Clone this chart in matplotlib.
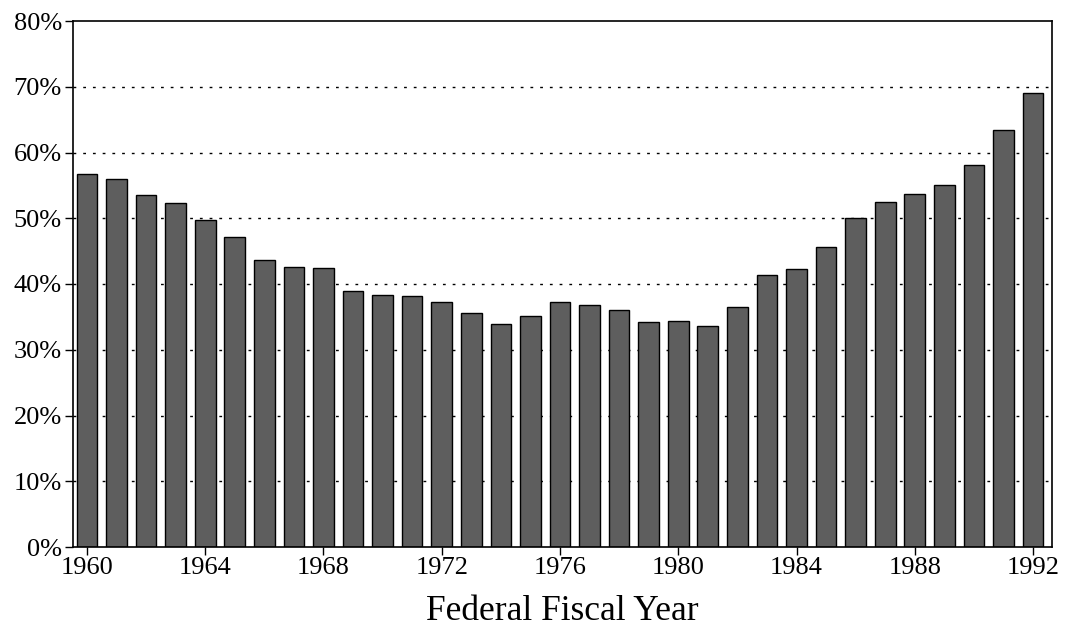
import numpy as np
import matplotlib
matplotlib.use('Agg')
import matplotlib.pyplot as plt
from matplotlib.ticker import FuncFormatter

years = list(range(1960, 1993))
share = [56.8, 56.0, 53.6, 52.3, 49.7, 47.1, 43.6, 42.6, 42.5, 38.9,
         38.3, 38.1, 37.3, 35.6, 33.9, 35.2, 37.3, 36.8, 36.1, 34.2,
         34.4, 33.6, 36.5, 41.4, 42.3, 45.6, 50.0, 52.4, 53.7, 55.0,
         58.1, 63.4, 69.0]
year_ticks = [1960, 1964, 1968, 1972, 1976, 1980, 1984, 1988, 1992]
pct_ticks = [0, 10, 20, 30, 40, 50, 60, 70, 80]

plt.rcParams['font.family'] = ['Liberation Serif', 'DejaVu Serif']

fig = plt.figure(figsize=(10.65, 6.36), dpi=100)
ax = fig.add_axes([73 / 1065, 1 - 547 / 636, (1052 - 73) / 1065, (547 - 21) / 636])

ax.bar(years, share, width=0.7, color='#5e5e5e', edgecolor='black', linewidth=1.0, zorder=2)

ax.set_xlim(1959.53, 1992.64)
ax.set_ylim(0, 80)
ax.set_yticks(pct_ticks)
ax.yaxis.set_major_formatter(FuncFormatter(lambda v, p: '%d%%' % v))
ax.set_xticks(year_ticks)
ax.tick_params(axis='both', labelsize=19, direction='out', length=6, width=1, colors='black')
ax.tick_params(axis='y', pad=2)
ax.tick_params(axis='x', pad=1)

for y in pct_ticks[1:-1]:
    ax.axhline(y, color='black', linestyle=(0, (2, 5)), linewidth=1, zorder=1)

for s in ax.spines.values():
    s.set_linewidth(1.2)
    s.set_color('black')

ax.set_xlabel('Federal Fiscal Year', fontsize=25.5, labelpad=12)

fig.savefig('out.png', dpi=100)
